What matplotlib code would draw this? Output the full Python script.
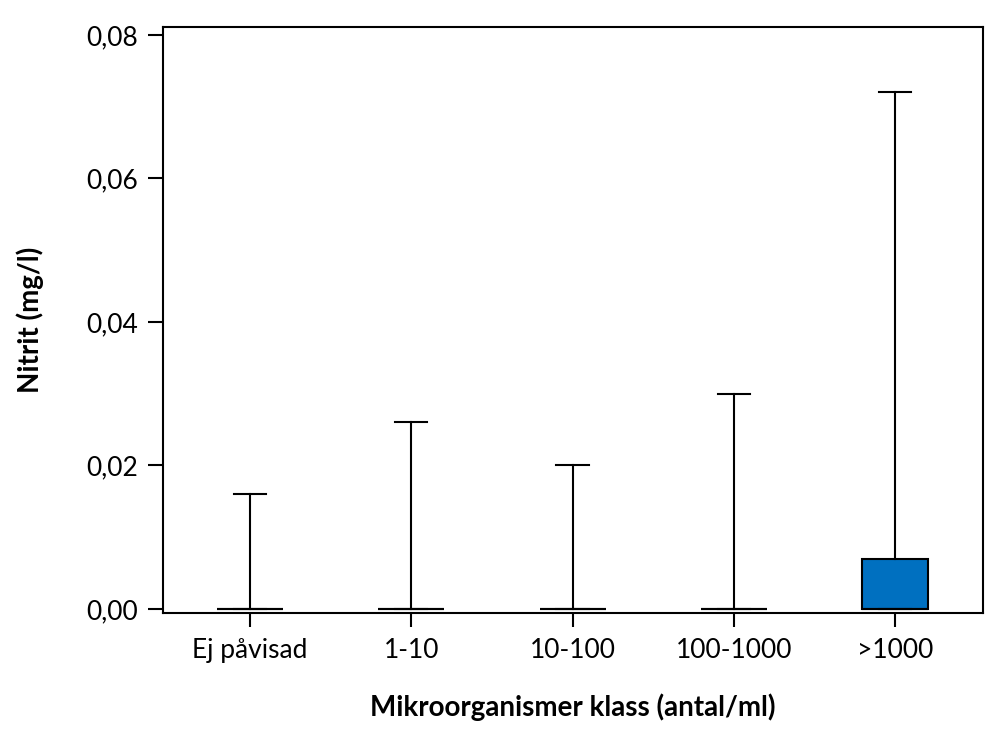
import matplotlib
matplotlib.use("Agg")
import matplotlib.pyplot as plt

# Data
klasser = ["Ej påvisad", "1-10", "10-100", "100-1000", ">1000"]
q1 = [0, 0, 0, 0, 0]
median = [0, 0, 0, 0, 0]
q3 = [0, 0, 0, 0, 0.007]
whisk_lo = [0, 0, 0, 0, 0]
whisk_hi = [0.016, 0.026, 0.020, 0.030, 0.072]

y_ticks = [0.0, 0.02, 0.04, 0.06, 0.08]
y_ticklabels = ["0,00", "0,02", "0,04", "0,06", "0,08"]

plt.rcParams["font.family"] = ["Lato", "DejaVu Sans"]

stats = []
for i in range(len(klasser)):
    stats.append({
        "label": klasser[i],
        "q1": q1[i], "med": median[i], "q3": q3[i],
        "whislo": whisk_lo[i], "whishi": whisk_hi[i],
        "fliers": [],
    })

fig = plt.figure(figsize=(10, 7.5), dpi=100)
ax = fig.add_axes([0.163, 0.1827, 0.82, 0.7813])

ax.bxp(stats, positions=range(1, 6), widths=0.41, patch_artist=True,
       showfliers=False,
       boxprops=dict(facecolor="#0070C0", edgecolor="black", linewidth=1.5),
       medianprops=dict(color="black", linewidth=1.5),
       whiskerprops=dict(color="black", linewidth=1.5),
       capprops=dict(color="black", linewidth=1.5),
       capwidths=0.2)

ax.set_xlim(0.46, 5.545)
ax.set_ylim(-0.00056, 0.08111)
ax.set_yticks(y_ticks)
ax.set_yticklabels(y_ticklabels)
ax.set_xticks(range(1, 6))
ax.set_xticklabels(klasser)

for s in ax.spines.values():
    s.set_linewidth(1.5)
ax.tick_params(axis="y", length=11, width=1.5, labelsize=19, pad=7)
ax.tick_params(axis="x", length=10, width=1.5, labelsize=19, pad=8)

ax.set_ylabel("Nitrit (mg/l)", fontsize=20, fontweight="bold", labelpad=30)
ax.set_xlabel("Mikroorganismer klass (antal/ml)", fontsize=20,
              fontweight="bold", labelpad=22)

fig.savefig("out.png", dpi=100)
